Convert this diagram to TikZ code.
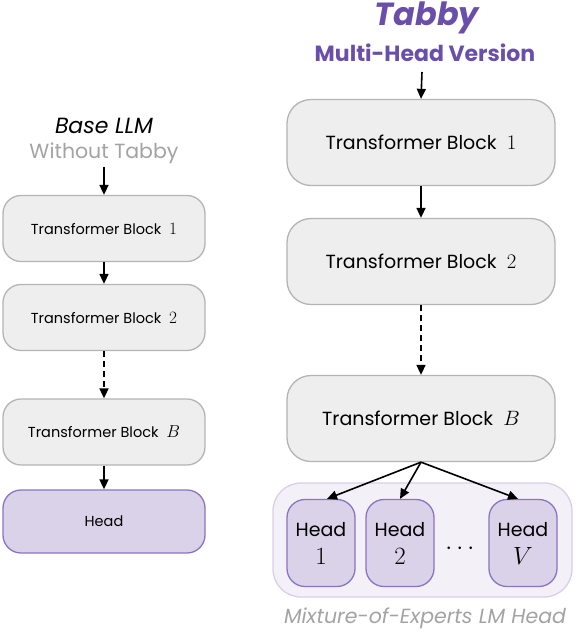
\documentclass[tikz,border=0pt]{standalone}
\usepackage{amsmath}
\usepackage{fontspec}
\setmainfont{Poppins}
\usepackage{xcolor}
\usetikzlibrary{arrows.meta}
\definecolor{boxgray}{HTML}{EEEEEE}
\definecolor{boxedge}{HTML}{B4B4B4}
\definecolor{headfill}{HTML}{DAD2E8}
\definecolor{headedge}{HTML}{8B74C2}
\definecolor{moefill}{HTML}{F3F0F8}
\definecolor{moeedge}{HTML}{D8CFEA}
\definecolor{tabbypurple}{HTML}{6A4FAA}
\definecolor{softgray}{HTML}{A3A3A3}

\newcommand{\mnum}[2]{{\fontsize{#1}{#1}\selectfont$#2$}}

\tikzset{
  arr/.style={-{Triangle[length=10pt,width=9pt]}, line width=1.6pt},
  dasharr/.style={arr, dash pattern=on 6pt off 4pt}
}

\begin{document}
\begin{tikzpicture}[x=1pt,y=-1pt,
  smallblock/.style={draw=boxedge, fill=boxgray, line width=1.3pt, rounded corners=18pt,
    minimum width=202pt, minimum height=66pt, inner sep=0pt, font=\fontsize{14.5}{16}\selectfont},
  bigblock/.style={draw=boxedge, fill=boxgray, line width=1.3pt, rounded corners=24pt,
    minimum width=268pt, minimum height=86pt, inner sep=0pt, font=\fontsize{19}{21}\selectfont},
  headbox/.style={draw=headedge, fill=headfill, line width=1.3pt, rounded corners=18pt,
    minimum width=68pt, minimum height=87pt, inner sep=0pt, align=center,
    font=\fontsize{19}{28}\selectfont},
  lefthead/.style={draw=headedge, fill=headfill, line width=1.3pt, rounded corners=18pt,
    minimum width=202pt, minimum height=63pt, inner sep=0pt, font=\fontsize{14.5}{16}\selectfont}]
\useasboundingbox (0,0) rectangle (576,633);

% base model
\node (basettl) at (104,126) {\fontsize{22}{24}\selectfont\itshape Base LLM};
\node[text=softgray] (basesub) at (104,153) {\fontsize{20.5}{24}\selectfont Without Tabby};
\coordinate (basein) at (104,167);
\node[smallblock] (lb1) at (104,228.5) {Transformer Block \ \mnum{19}{1}};
\node[smallblock] (lb2) at (104,317.5) {Transformer Block \ \mnum{19}{2}};
\node[smallblock] (lbB) at (104,432) {Transformer Block \ \mnum{19}{B}};
\node[lefthead] (lhead) at (104,521.5) {Head};

\draw[arr] (basein) -- (lb1.north);
\draw[arr] (lb1) -- (lb2);
\draw[dasharr] (lb2) -- (lbB);
\draw[arr] (lbB) -- (lhead);

% tabby, several heads
\node[text=tabbypurple] (tabttl) at (427,18) {\fontsize{32}{34}\selectfont\bfseries\itshape Tabby};
\node[text=tabbypurple] (tabsub) at (425,53) {\fontsize{22}{24}\selectfont\bfseries Multi-Head Version};
\coordinate (tabin) at (422,72);
\node[bigblock] (rb1) at (421,142.5) {Transformer Block \ \mnum{22}{1}};
\node[bigblock] (rb2) at (421,261.5) {Transformer Block \ \mnum{22}{2}};
\node[bigblock] (rbB) at (421,418.5) {Transformer Block \ \mnum{22}{B}};

\draw[arr] (tabin) -- (rb1.north);
\draw[arr] (rb1) -- (rb2);
\draw[dasharr] (rb2) -- (rbB);

\node[draw=moeedge, fill=moefill, line width=1.3pt, rounded corners=28pt,
  minimum width=299pt, minimum height=114pt] (moe) at (422.5,540) {};
\node[headbox] (h1) at (321,543) {Head\\\mnum{23}{1}};
\node[headbox] (h2) at (400,543) {Head\\\mnum{23}{2}};
\node[headbox] (hV) at (523,543) {Head\\\mnum{23}{V}};
\node (dots) at (462,549) {\mnum{23}{\cdots}};

\draw[arr] (rbB.south) -- ([xshift=6pt]h1.north);
\draw[arr] (rbB.south) -- (h2.north);
\draw[arr] (rbB.south) -- ([xshift=-5pt]hV.north);

\node[text=softgray] (moecap) at (425,618) {\fontsize{20.5}{21}\selectfont\itshape Mixture-of-Experts LM Head};
\end{tikzpicture}
\end{document}
